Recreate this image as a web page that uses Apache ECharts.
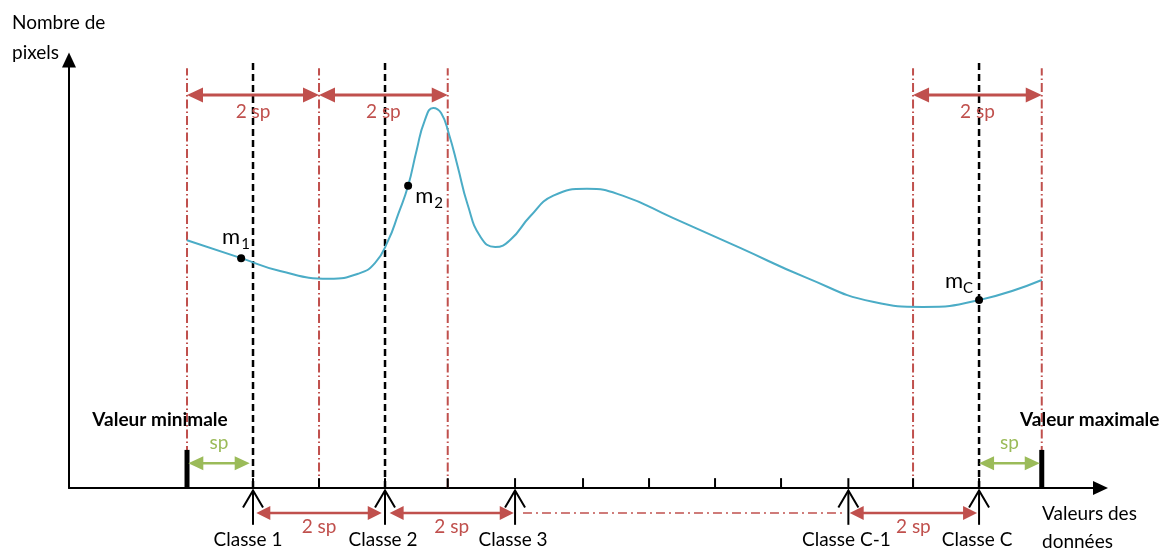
<!DOCTYPE html>
<html>
<head>
<meta charset="utf-8">
<script src="https://cdn.jsdelivr.net/npm/echarts@6/dist/echarts.min.js"></script>
<style>
html,body{margin:0;padding:0;background:#fff;}
#c{width:1171px;height:552px;}
</style>
</head>
<body>
<div id="c"></div>
<script>
// ---------------- DATA (x in units of "sp" from the minimum value, y = number of pixels, arbitrary units)
const curveX = [0, 0.82, 1.41, 2.15, 2.6, 2.85, 3.05, 3.2, 3.35, 3.48, 3.6, 3.73, 3.85, 3.97, 4.1, 4.25, 4.45, 4.67, 4.9, 5.2, 5.55, 6.06, 6.6, 7.36, 8.38, 9.39, 10.39, 11.15, 12.0, 12.95];
const curveY = [57.9, 53.7, 50.7, 48.9, 50.1, 52.6, 57.9, 64.0, 70.6, 79.0, 85.8, 88.8, 87.6, 82.6, 75.2, 66.3, 58.6, 56.3, 58.0, 63.5, 68.3, 69.9, 68.3, 63.1, 56.1, 49.1, 43.5, 42.3, 43.9, 48.6];
const meanX = [0.82, 3.35, 12.0];
const meanY = [53.7, 70.6, 43.9];
const meanSub = ['1', '2', 'C'];
const boundaryX = [0, 2, 3.95, 11, 12.95];
const centreX = [1, 3, 12];
const tickX = [1, 2, 3, 3.95, 4.97, 6, 7, 8, 9, 10.02, 11, 12];
const valueMinX = 0;
const valueMaxX = 12.95;
const extremeLabels = ['Valeur minimale', 'Valeur maximale'];
const classX = [1, 3, 4.97, 10.02, 12];
const classLabels = ['Classe 1', 'Classe 2', 'Classe 3', 'Classe C-1', 'Classe C'];
const topSpanFrom = [0, 2, 11];
const topSpanTo = [2, 3.95, 12.95];
const bottomSpanFrom = [1.05, 3.07, 10.04];
const bottomSpanTo = [2.95, 4.95, 11.97];
const bottomGapFrom = 5.09;
const bottomGapTo = 9.95;
const spSpanFrom = [0.02, 12.0];
const spSpanTo = [0.95, 12.92];
const spanText = '2 sp';
const spText = 'sp';
const yAxisName = 'Nombre de\npixels';
const xAxisName = 'Valeurs des\ndonnées';

// ---------------- STYLE / LAYOUT
const RED = '#C0504D', GREEN = '#9BBB59', BLUE = '#4BACC6', INK = '#000000';
const FONT = 'Lato, "Noto Sans", sans-serif';
const LV = { redTop: 98.1, blackTop: 100, topArrow: 91.8, tick: 2.3, bar: 8.9, spArrow: 5.8,
             bottomArrow: -5.84, shaftTop: -0.6, shaftBottom: -8.6 };

function head(tip, dir, len, hw, color) {
  const bx = tip[0] - dir * len;
  return { type: 'polygon', shape: { points: [[tip[0], tip[1]], [bx, tip[1] - hw], [bx, tip[1] + hw]] },
           style: { fill: color } };
}
function dbl(a, b, color, lw, len, hw) {
  return [
    { type: 'line', shape: { x1: a[0] + len * 0.7, y1: a[1], x2: b[0] - len * 0.7, y2: b[1] },
      style: { stroke: color, lineWidth: lw } },
    head(a, -1, len, hw, color),
    head(b, 1, len, hw, color)
  ];
}
function txt(x, y, s, color, size, weight, align) {
  return { type: 'text', x: x, y: y,
    style: { text: s, fill: color, font: (weight || 'normal') + ' ' + size + 'px ' + FONT,
             align: align || 'center', verticalAlign: 'middle',
             textAlign: align || 'center', textVerticalAlign: 'middle' } };
}

const chart = echarts.init(document.getElementById('c'), null, { renderer: 'canvas' });

const axisCommon = {
  type: 'value',
  axisTick: { show: false }, axisLabel: { show: false }, splitLine: { show: false }
};

const option = {
  animation: false,
  backgroundColor: '#ffffff',
  grid: { left: 69, right: 70.5, top: 60, bottom: 64 },
  xAxis: Object.assign({}, axisCommon, {
    min: -1.788, max: 13.84,
    axisLine: { show: true, onZero: true, symbol: ['none', 'triangle'], symbolSize: [14, 15],
                lineStyle: { color: INK, width: 2 } }
  }),
  yAxis: Object.assign({}, axisCommon, {
    min: 0, max: 100,
    axisLine: { show: true, onZero: false, symbol: ['none', 'triangle'], symbolSize: [14, 15],
                lineStyle: { color: INK, width: 2 } }
  }),
  graphic: [
    { type: 'text', left: 12, top: 8, style: { text: yAxisName, fill: INK, font: '19px ' + FONT, lineHeight: 30 } },
    { type: 'text', left: 1042, top: 500, style: { text: xAxisName, fill: INK, font: '19px ' + FONT, lineHeight: 28 } }
  ],
  series: [
    { // red dash-dot class boundaries
      type: 'custom', z: 2,
      data: boundaryX.map(x => [x, 0]),
      renderItem: function (p, api) {
        const a = api.coord([api.value(0), 0]), b = api.coord([api.value(0), LV.redTop]);
        return { type: 'line', shape: { x1: a[0], y1: a[1], x2: b[0], y2: b[1] },
                 style: { stroke: RED, lineWidth: 2, lineDash: [9, 3, 1.5, 3] } };
      }
    },
    { // black dashed class centres
      type: 'custom', z: 3,
      data: centreX.map(x => [x, 0]),
      renderItem: function (p, api) {
        const a = api.coord([api.value(0), 0]), b = api.coord([api.value(0), LV.blackTop]);
        return { type: 'line', shape: { x1: a[0], y1: a[1], x2: b[0], y2: b[1] },
                 style: { stroke: INK, lineWidth: 2.5, lineDash: [7, 4] } };
      }
    },
    { // axis ticks
      type: 'custom', z: 4,
      data: tickX.map(x => [x, 0]),
      renderItem: function (p, api) {
        const a = api.coord([api.value(0), 0]), b = api.coord([api.value(0), LV.tick]);
        return { type: 'line', shape: { x1: a[0], y1: a[1], x2: b[0], y2: b[1] },
                 style: { stroke: INK, lineWidth: 2 } };
      }
    },
    { // minimum / maximum value bars
      type: 'custom', z: 5,
      data: [[valueMinX, 0], [valueMaxX, 1]],
      renderItem: function (p, api) {
        const a = api.coord([api.value(0), 0]), b = api.coord([api.value(0), LV.bar]);
        const idx = p.dataIndex;
        const lx = idx === 0 ? a[0] - 27 : a[0] + 48;
        return { type: 'group', children: [
          { type: 'line', shape: { x1: a[0], y1: a[1], x2: b[0], y2: b[1] }, style: { stroke: INK, lineWidth: 5 } },
          txt(lx, b[1] - 30, extremeLabels[idx], INK, 19, 'bold')
        ] };
      }
    },
    { // distribution curve
      type: 'line', z: 6,
      data: curveX.map((x, i) => [x, curveY[i]]),
      smooth: 0.5, showSymbol: false, symbol: 'none',
      lineStyle: { color: BLUE, width: 2 }
    },
    { // class means
      type: 'custom', z: 7,
      data: meanX.map((x, i) => [x, meanY[i]]),
      renderItem: function (p, api) {
        const c = api.coord([api.value(0), api.value(1)]);
        const i = p.dataIndex;
        const off = [[-1, -10, 0, -7], [7, 21, 26, 25], [-16, -8, -16, -4]][i];
        const mAlign = i === 0 || i === 2 ? 'right' : 'left';
        return { type: 'group', children: [
          { type: 'circle', shape: { cx: c[0], cy: c[1], r: 4 }, style: { fill: INK } },
          { type: 'text', x: c[0] + off[0], y: c[1] + off[1],
            style: { text: 'm', fill: INK, font: '22px ' + FONT, align: mAlign, verticalAlign: 'bottom',
                     textAlign: mAlign, textVerticalAlign: 'bottom' } },
          { type: 'text', x: c[0] + off[2], y: c[1] + off[3],
            style: { text: meanSub[i], fill: INK, font: '15px ' + FONT, align: 'left', verticalAlign: 'bottom',
                     textAlign: 'left', textVerticalAlign: 'bottom' } }
        ] };
      }
    },
    { // top "2 sp" arrows
      type: 'custom', z: 8,
      data: topSpanFrom.map((x, i) => [x, topSpanTo[i]]),
      renderItem: function (p, api) {
        const a = api.coord([api.value(0), LV.topArrow]), b = api.coord([api.value(1), LV.topArrow]);
        return { type: 'group', children: dbl(a, b, RED, 3, 16, 7.5).concat([
          txt((a[0] + b[0]) / 2, a[1] + 17, spanText, RED, 19)
        ]) };
      }
    },
    { // green "sp" arrows
      type: 'custom', z: 8,
      data: spSpanFrom.map((x, i) => [x, spSpanTo[i]]),
      renderItem: function (p, api) {
        const a = api.coord([api.value(0), LV.spArrow]), b = api.coord([api.value(1), LV.spArrow]);
        return { type: 'group', children: dbl(a, b, GREEN, 2.5, 15, 7).concat([
          txt((a[0] + b[0]) / 2, a[1] - 20, spText, GREEN, 19)
        ]) };
      }
    },
    { // bottom "2 sp" arrows between classes
      type: 'custom', z: 8,
      data: bottomSpanFrom.map((x, i) => [x, bottomSpanTo[i]]),
      renderItem: function (p, api) {
        const a = api.coord([api.value(0), LV.bottomArrow]), b = api.coord([api.value(1), LV.bottomArrow]);
        return { type: 'group', children: dbl(a, b, RED, 2.5, 14, 7).concat([
          txt((a[0] + b[0]) / 2, a[1] + 14, spanText, RED, 19)
        ]) };
      }
    },
    { // bottom dash-dot gap line
      type: 'custom', z: 7,
      data: [[bottomGapFrom, bottomGapTo]],
      renderItem: function (p, api) {
        const a = api.coord([api.value(0), LV.bottomArrow]), b = api.coord([api.value(1), LV.bottomArrow]);
        return { type: 'line', shape: { x1: a[0], y1: a[1], x2: b[0], y2: b[1] },
                 style: { stroke: RED, lineWidth: 1.5, lineDash: [9, 4, 2, 4] } };
      }
    },
    { // class pointer arrows + labels
      type: 'custom', z: 9,
      data: classX.map((x, i) => [x, i]),
      renderItem: function (p, api) {
        const t = api.coord([api.value(0), LV.shaftTop]), bt = api.coord([api.value(0), LV.shaftBottom]);
        return { type: 'group', children: [
          { type: 'line', shape: { x1: t[0], y1: t[1], x2: bt[0], y2: bt[1] }, style: { stroke: INK, lineWidth: 2 } },
          { type: 'polyline', shape: { points: [[t[0] - 10, t[1] + 17], [t[0], t[1]], [t[0] + 10, t[1] + 17]] },
            style: { stroke: INK, lineWidth: 2, fill: null } },
          txt(t[0] - (p.dataIndex === 0 ? 5 : 2), bt[1] + 15, classLabels[p.dataIndex], INK, 19)
        ] };
      }
    }
  ]
};
chart.setOption(option);
</script>
</body>
</html>
